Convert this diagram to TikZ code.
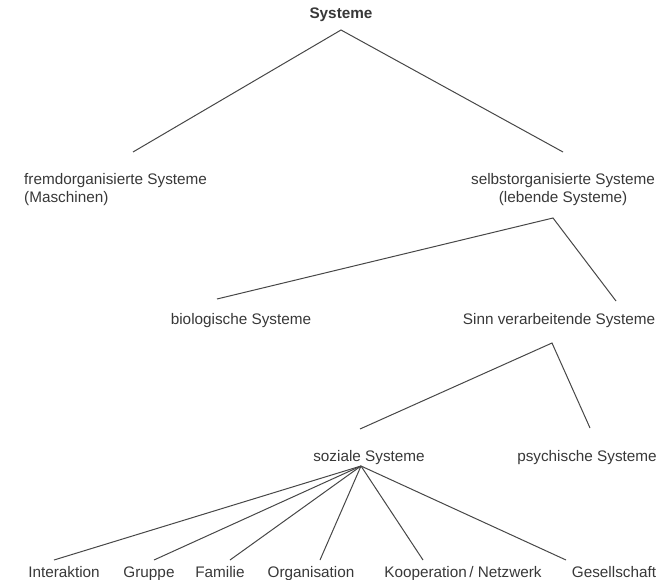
\documentclass[tikz,border=0pt]{standalone}
\usepackage{fontspec}
\setmainfont{Liberation Sans}
\begin{document}
\begin{tikzpicture}[x=1pt,y=-1pt,
  lbl/.style={inner sep=0pt, anchor=base, text=black!78, font=\fontsize{15.3}{18}\selectfont},
  conn/.style={draw=black!72, line width=1pt}]
\useasboundingbox (0,0) rectangle (671,580);
% nodes
\node[lbl, font=\fontsize{15.3}{18}\selectfont\bfseries] (sys) at (341,19) {Systeme};
\node[lbl, anchor=west, align=left] (fremd) at (24,190) {fremdorganisierte Systeme\\(Maschinen)};
\node[lbl, anchor=center, align=center] (selbst) at (563,190) {selbstorganisierte Systeme\\(lebende Systeme)};
\node[lbl] (bio) at (241,324) {biologische Systeme};
\node[lbl] (sinn) at (559,324) {Sinn verarbeitende Systeme};
\node[lbl] (sozial) at (369,461) {soziale Systeme};
\node[lbl] (psych) at (587,461) {psychische Systeme};
\node[lbl] (b1) at (64,577) {Interaktion};
\node[lbl] (b2) at (149,577) {Gruppe};
\node[lbl] (b3) at (220,577) {Familie};
\node[lbl] (b4) at (311,577) {Organisation};
\node[lbl] (b5) at (463,577) {Kooperation\,/ Netzwerk};
\node[lbl] (b6) at (614,577) {Gesellschaft};
% connector points
\coordinate (sysA) at (341,30);
\coordinate (fremdT) at (133,152);
\coordinate (selbstT) at (563,152);
\coordinate (selbstA) at (553,218);
\coordinate (bioT) at (217,299);
\coordinate (sinnT) at (616,301);
\coordinate (sinnA) at (552,343);
\coordinate (sozialT) at (360,429);
\coordinate (psychT) at (590,428);
\coordinate (sozialA) at (361,466);
\coordinate (b1T) at (54,560);
\coordinate (b2T) at (154,560);
\coordinate (b3T) at (230,560);
\coordinate (b4T) at (320,560);
\coordinate (b5T) at (423,560);
\coordinate (b6T) at (566,560);
% connectors
\draw[conn] (fremdT) -- (sysA) -- (selbstT);
\draw[conn] (bioT) -- (selbstA) -- (sinnT);
\draw[conn] (sozialT) -- (sinnA) -- (psychT);
\foreach \i in {1,...,6} \draw[conn] (sozialA) -- (b\i T);
\end{tikzpicture}
\end{document}
